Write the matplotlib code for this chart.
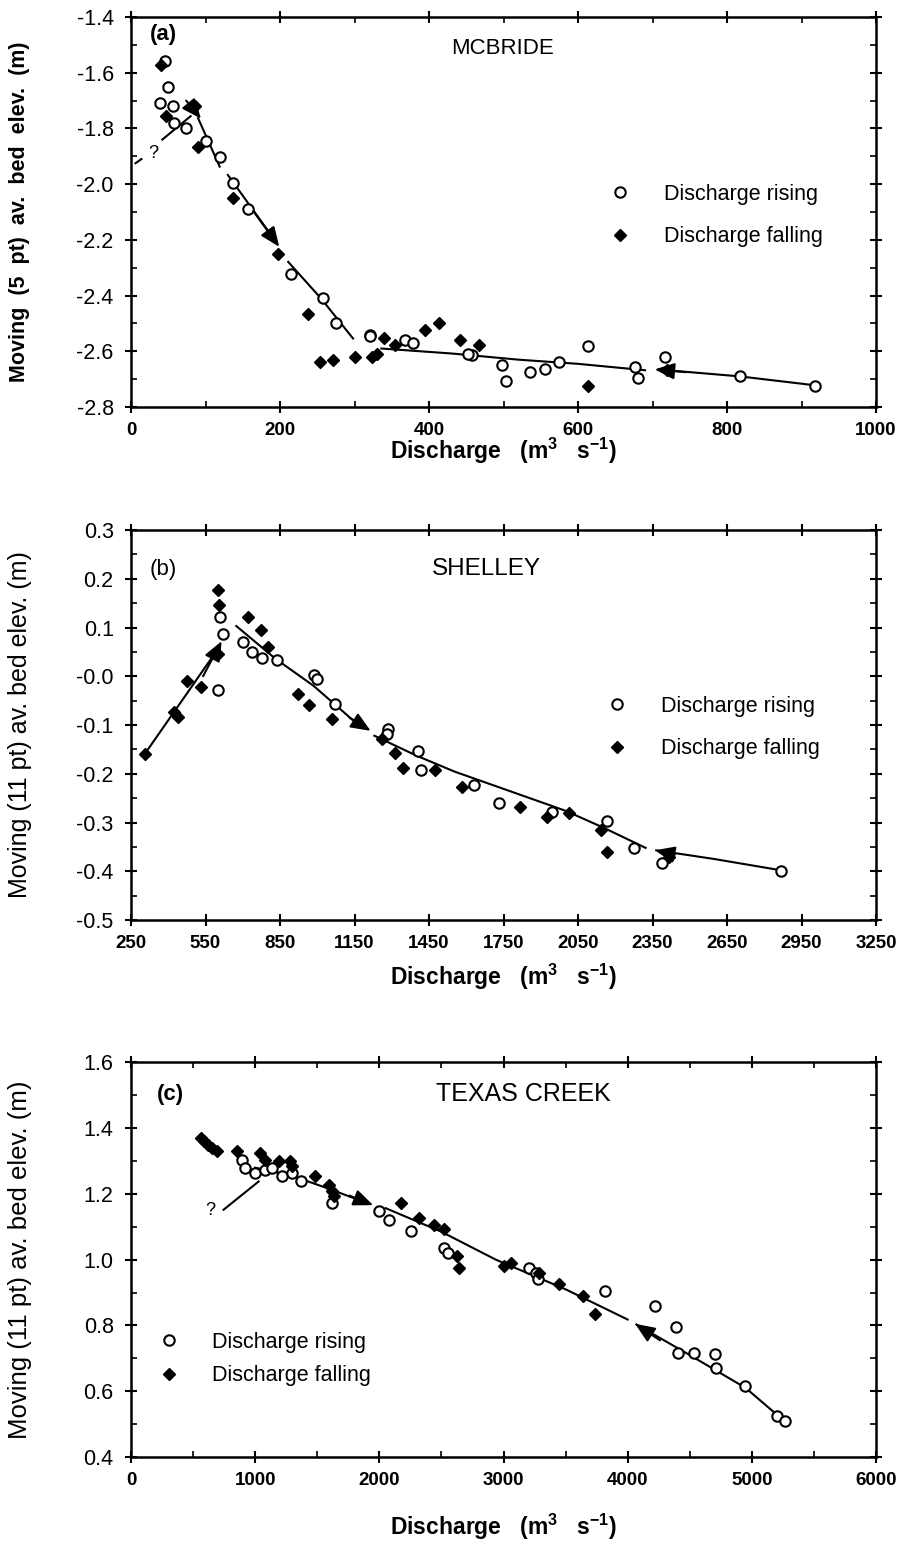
import matplotlib
matplotlib.use('Agg')
import matplotlib.pyplot as plt
from matplotlib.ticker import MultipleLocator, FixedLocator, FixedFormatter, FormatStrFormatter

plt.rcParams['font.family'] = ['Liberation Sans', 'DejaVu Sans']
plt.rcParams['axes.unicode_minus'] = False
plt.rcParams['mathtext.default'] = 'regular'

# ---------------- Panel (a) MCBRIDE ----------------
a_rise_x = [45, 49, 39, 56, 58, 74, 100, 119, 137, 157, 215, 258, 275, 321, 321, 368, 379, 458, 453,
            498, 504, 535, 556, 575, 613, 676, 681, 717, 817, 918]
a_rise_y = [-1.559, -1.652, -1.709, -1.719, -1.781, -1.799, -1.845, -1.901, -1.997, -2.090, -2.321,
            -2.410, -2.500, -2.542, -2.545, -2.560, -2.570, -2.612, -2.611, -2.650, -2.708, -2.676,
            -2.665, -2.638, -2.582, -2.656, -2.696, -2.621, -2.688, -2.724]
a_fall_x = [40, 47, 86, 90, 137, 197, 237, 254, 271, 300, 323, 330, 339, 354, 395, 413, 442, 467, 614, 720]
a_fall_y = [-1.571, -1.755, -1.721, -1.865, -2.051, -2.249, -2.467, -2.638, -2.630, -2.620, -2.620,
            -2.610, -2.554, -2.578, -2.522, -2.500, -2.560, -2.578, -2.724, -2.668]
a_lines = [([42, 80], [-1.84, -1.756]),
           ([90, 119], [-1.763, -1.937]),
           ([130, 190], [-1.967, -2.19]),
           ([211, 255, 298], [-2.279, -2.41, -2.554]),
           ([336, 431, 520, 600, 690], [-2.59, -2.608, -2.63, -2.645, -2.668]),
           ([720, 817, 918], [-2.668, -2.69, -2.722])]
a_dash = ([6, 14], [-1.925, -1.91])
a_arrows = [((74, -1.70), (94, -1.765)),
            ((165, -2.10), (199, -2.225)),
            ((745, -2.675), (703, -2.665))]
a_q = (30, -1.89)

# ---------------- Panel (b) SHELLEY ----------------
b_rise_x = [600, 607, 620, 701, 739, 779, 838, 986, 997, 1071, 1286, 1279, 1407, 1418, 1630, 1731,
            1946, 2168, 2275, 2390, 2867]
b_rise_y = [-0.029, 0.122, 0.086, 0.071, 0.050, 0.038, 0.033, 0.002, -0.005, -0.056, -0.108, -0.119,
            -0.154, -0.193, -0.223, -0.260, -0.279, -0.296, -0.353, -0.383, -0.399]
b_fall_x = [306, 425, 440, 476, 533, 600, 604, 600, 721, 775, 802, 923, 966, 1058, 1259, 1313, 1344,
            1475, 1582, 1818, 1925, 2013, 2141, 2168, 2416]
b_fall_y = [-0.159, -0.073, -0.084, -0.010, -0.023, 0.177, 0.146, 0.045, 0.122, 0.095, 0.060, -0.036,
            -0.058, -0.087, -0.128, -0.158, -0.188, -0.192, -0.227, -0.268, -0.289, -0.281, -0.316,
            -0.361, -0.371]
b_lines = [([306, 585], [-0.159, 0.045]),
           ([674, 829, 986, 1150], [0.103, 0.037, -0.02, -0.093]),
           ([1230, 1400, 1555, 1700, 1850, 2000, 2150, 2322],
            [-0.122, -0.163, -0.196, -0.222, -0.249, -0.276, -0.31, -0.352]),
           ([2365, 2600, 2867], [-0.357, -0.375, -0.398])]
b_arrows = [((540, -0.0), (615, 0.072)),
            ((1130, -0.085), (1215, -0.112)),
            ((2440, -0.366), (2360, -0.357))]

# ---------------- Panel (c) TEXAS CREEK ----------------
c_rise_x = [893, 920, 1001, 1082, 1136, 1216, 1297, 1372, 1620, 1997, 2078, 2252, 2522, 2549, 3207,
            3260, 3274, 3820, 4224, 4390, 4409, 4538, 4700, 4708, 4942, 5200, 5270]
c_rise_y = [1.304, 1.279, 1.264, 1.274, 1.279, 1.254, 1.264, 1.238, 1.173, 1.147, 1.122, 1.087, 1.036,
            1.021, 0.975, 0.960, 0.940, 0.904, 0.859, 0.796, 0.717, 0.717, 0.712, 0.672, 0.616, 0.525,
            0.510]
c_fall_x = [560, 590, 620, 650, 690, 853, 1041, 1082, 1190, 1284, 1297, 1485, 1593, 1620, 1634, 2172,
            2320, 2441, 2522, 2629, 2643, 3005, 3059, 3287, 3449, 3637, 3739]
c_fall_y = [1.37, 1.36, 1.35, 1.34, 1.33, 1.33, 1.325, 1.302, 1.299, 1.299, 1.284, 1.254, 1.228, 1.208,
            1.193, 1.173, 1.127, 1.107, 1.092, 1.011, 0.975, 0.980, 0.991, 0.960, 0.925, 0.889, 0.834]
c_lines = [([745, 1028], [1.152, 1.238]),
           ([1000, 1300, 1600, 1880], [1.28, 1.255, 1.215, 1.175]),
           ([2050, 2500, 2939, 3500, 4000], [1.157, 1.085, 1.0, 0.91, 0.818]),
           ([4070, 4500, 4950, 5290], [0.803, 0.71, 0.61, 0.50])]
c_arrows = [((1760, 1.195), (1950, 1.166)),
            ((4260, 0.755), (4060, 0.805))]
c_q = (640, 1.15)

legend_labels = ['Discharge rising', 'Discharge falling']

fig = plt.figure(figsize=(9.06, 15.47), dpi=100)


def style_axes(ax):
    for s in ax.spines.values():
        s.set_linewidth(1.8)
    ax.tick_params(which='major', direction='inout', length=9, width=1.5, top=True, right=True)
    ax.tick_params(which='minor', direction='in', length=4, width=1.2, top=True, right=True)
    ax.tick_params(axis='y', labelsize=15.5, pad=8)
    ax.tick_params(axis='x', labelsize=13.5, pad=6)
    for lab in ax.get_xticklabels():
        lab.set_fontweight('bold')


def draw(ax, rx, ry, fx, fy, lines, arrows):
    for lx, ly in lines:
        ax.plot(lx, ly, color='black', lw=1.5, zorder=2)
    hr, = ax.plot(rx, ry, 'o', ms=7.5, mfc='white', mec='black', mew=1.5, ls='none', zorder=3)
    hf, = ax.plot(fx, fy, 'D', ms=6.5, mfc='black', mec='black', ls='none', zorder=4)
    for tail, tip in arrows:
        ax.annotate('', xy=tip, xytext=tail,
                    arrowprops=dict(arrowstyle='-|>,head_length=1.2,head_width=0.5',
                                    color='black', lw=1.5, shrinkA=0, shrinkB=0),
                    zorder=5)
    return hr, hf


def legend(ax, hr, hf, x, y, spacing, pad):
    ax.legend([hr, hf], legend_labels, loc='upper left', bbox_to_anchor=(x, y), frameon=False,
              borderpad=0, borderaxespad=0, handlelength=1, handletextpad=pad, labelspacing=spacing,
              prop=dict(size=15.5))


xlab = r'Discharge   (m$^{3}$   s$^{-1}$)'

# Panel (a)
axa = fig.add_axes([0.1446, 0.7369, 0.8223, 0.2521])
hr, hf = draw(axa, a_rise_x, a_rise_y, a_fall_x, a_fall_y, a_lines, a_arrows)
axa.plot(*a_dash, color='black', lw=1.5)
axa.text(a_q[0], a_q[1], '?', fontsize=13, ha='center', va='center')
axa.set_xlim(0, 1000)
axa.set_ylim(-2.8, -1.4)
axa.xaxis.set_major_locator(MultipleLocator(200))
axa.xaxis.set_minor_locator(MultipleLocator(100))
axa.yaxis.set_major_locator(MultipleLocator(0.2))
axa.yaxis.set_minor_locator(MultipleLocator(0.1))
axa.yaxis.set_major_formatter(FormatStrFormatter('%.1f'))
style_axes(axa)
axa.set_xlabel(xlab, fontsize=16.5, fontweight='bold')
axa.xaxis.set_label_coords(0.5, -0.075)
axa.set_ylabel('Moving  (5  pt)  av.  bed  elev.  (m)', fontsize=15.5, fontweight='bold')
axa.yaxis.set_label_coords(-0.136, 0.5)
axa.text(0.025, 0.955, '(a)', transform=axa.transAxes, fontsize=16, fontweight='bold', va='center')
axa.text(0.498, 0.92, 'MCBRIDE', transform=axa.transAxes, fontsize=16, va='center', ha='center')
legend(axa, hr, hf, 0.642, 0.572, 1.0, 1.55)

# Panel (b)
axb = fig.add_axes([0.1446, 0.4053, 0.8223, 0.2521])
hr, hf = draw(axb, b_rise_x, b_rise_y, b_fall_x, b_fall_y, b_lines, b_arrows)
axb.set_xlim(250, 3250)
axb.set_ylim(-0.5, 0.3)
b_xticks = [250, 550, 850, 1150, 1450, 1750, 2050, 2350, 2650, 2950, 3250]
b_yticks = [0.3, 0.2, 0.1, 0.0, -0.1, -0.2, -0.3, -0.4, -0.5]
b_ylabels = ['0.3', '0.2', '0.1', '-0.0', '-0.1', '-0.2', '-0.3', '-0.4', '-0.5']
axb.xaxis.set_major_locator(FixedLocator(b_xticks))
axb.yaxis.set_major_locator(FixedLocator(b_yticks))
axb.yaxis.set_major_formatter(FixedFormatter(b_ylabels))
axb.yaxis.set_minor_locator(MultipleLocator(0.05))
style_axes(axb)
axb.set_xlabel(xlab, fontsize=16.5, fontweight='bold')
axb.xaxis.set_label_coords(0.5, -0.108)
axb.set_ylabel('Moving (11 pt) av. bed elev. (m)', fontsize=18)
axb.yaxis.set_label_coords(-0.133, 0.5)
axb.text(0.025, 0.9, '(b)', transform=axb.transAxes, fontsize=16, va='center')
axb.text(0.477, 0.9, 'SHELLEY', transform=axb.transAxes, fontsize=17.5, va='center', ha='center')
legend(axb, hr, hf, 0.638, 0.575, 1.0, 1.55)

# Panel (c)
axc = fig.add_axes([0.1446, 0.0582, 0.8223, 0.2550])
hr, hf = draw(axc, c_rise_x, c_rise_y, c_fall_x, c_fall_y, c_lines, c_arrows)
axc.text(c_q[0], c_q[1], '?', fontsize=13, ha='center', va='center')
axc.set_xlim(0, 6000)
axc.set_ylim(0.4, 1.6)
axc.xaxis.set_major_locator(MultipleLocator(1000))
axc.xaxis.set_minor_locator(MultipleLocator(500))
axc.yaxis.set_major_locator(MultipleLocator(0.2))
axc.yaxis.set_minor_locator(MultipleLocator(0.1))
axc.yaxis.set_major_formatter(FormatStrFormatter('%.1f'))
style_axes(axc)
axc.set_xlabel(xlab, fontsize=16.5, fontweight='bold')
axc.xaxis.set_label_coords(0.5, -0.14)
axc.set_ylabel('Moving (11 pt) av. bed elev. (m)', fontsize=18.5)
axc.yaxis.set_label_coords(-0.133, 0.5)
axc.text(0.035, 0.92, '(c)', transform=axc.transAxes, fontsize=16, fontweight='bold', va='center')
axc.text(0.526, 0.92, 'TEXAS CREEK', transform=axc.transAxes, fontsize=18, va='center', ha='center')
legend(axc, hr, hf, 0.037, 0.318, 0.6, 1.5)

fig.savefig('out.png', dpi=100)
